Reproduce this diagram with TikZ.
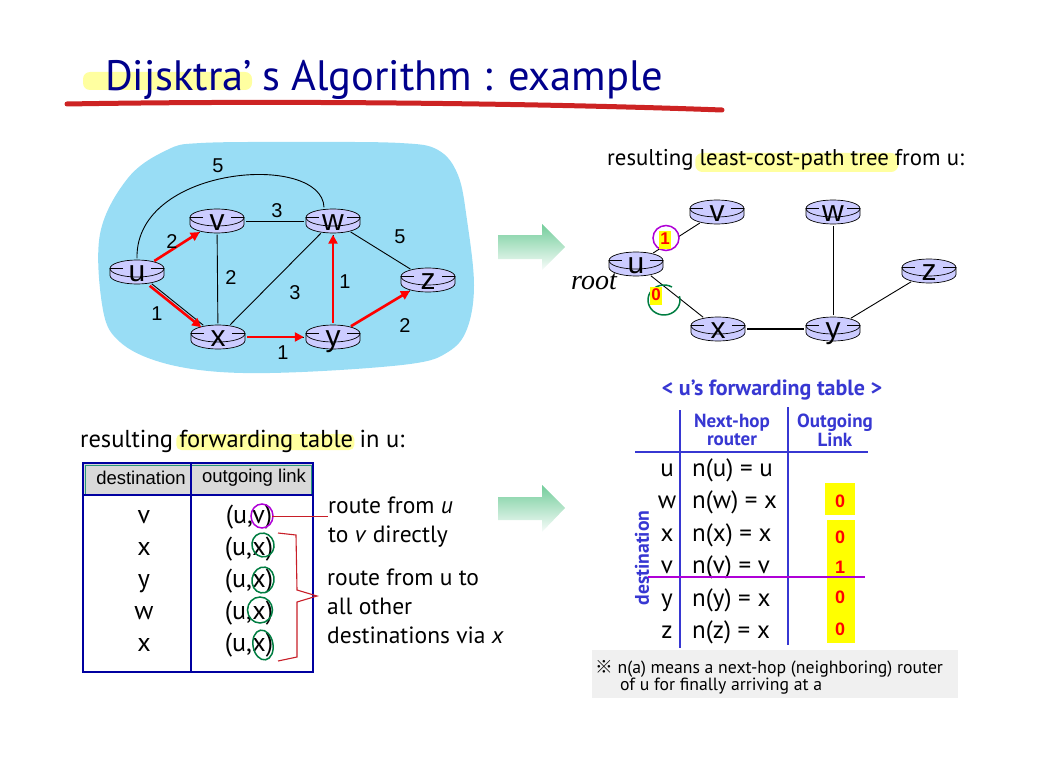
\documentclass[tikz,border=0pt]{standalone}
\usepackage{fontspec}
\setmainfont{PT Sans}
\newfontfamily\arialfont{Liberation Sans}
\newfontfamily\symfont{Noto Sans CJK SC}
\newfontfamily\handfont{Liberation Serif}
\usetikzlibrary{arrows.meta,positioning,shapes.geometric,calc}
\definecolor{titleblue}{RGB}{0,0,140}
\definecolor{underred}{RGB}{205,35,35}
\definecolor{cloudblue}{RGB}{153,221,245}
\definecolor{routerlav}{RGB}{204,204,255}
\definecolor{pathred}{RGB}{255,0,0}
\definecolor{markyellow}{RGB}{255,255,160}
\definecolor{tagyellow}{RGB}{255,255,0}
\definecolor{tableblue}{RGB}{0,0,160}
\definecolor{headgray}{RGB}{217,217,217}
\definecolor{headteal}{RGB}{40,150,120}
\definecolor{fwdblue}{RGB}{55,55,210}
\definecolor{notegray}{RGB}{240,240,240}
\definecolor{inkpurple}{RGB}{175,0,215}
\definecolor{inkgreen}{RGB}{0,125,65}
\definecolor{notered}{RGB}{200,30,40}
\definecolor{arrowgreen}{RGB}{115,205,155}
\pgfdeclarelayer{marker}
\pgfsetlayers{marker,main}
\newcommand{\router}[3]{\pic at #2 {routericon}; \node[router] (#1) at #2 {#3};}

\begin{document}
\begin{tikzpicture}[
    x=1pt, y=-1pt,
    router/.style={
        ellipse,
        minimum width=58pt,
        minimum height=27pt,
        inner sep=0pt,
        font=\arialfont\fontsize{30}{30}\selectfont,
        text height=19pt,
        text depth=0pt
    },
    routericon/.pic={
        \filldraw[fill=routerlav, draw=black, line width=0.7pt]
            (-27pt,3.5pt) -- (-27pt,-3.5pt) arc[start angle=180, end angle=360, x radius=27pt, y radius=8.5pt] -- (27pt,3.5pt) -- cycle;
        \filldraw[fill=routerlav, draw=black, line width=0.7pt] (0pt,3.5pt) ellipse[x radius=27pt, y radius=8.5pt];
        \draw[line width=0.7pt] (-27pt,3.5pt) -- (-14pt,3.5pt) (14pt,3.5pt) -- (27pt,3.5pt);
    },
    link/.style={draw=black, line width=0.9pt},
    sp/.style={draw=pathred, line width=2.6pt, -{Triangle[length=9pt,width=9pt]}},
    wt/.style={font=\arialfont\fontsize{20}{20}\selectfont, inner sep=1pt},
    capt/.style={font=\fontsize{22.8}{24}\selectfont, inner sep=0pt, anchor=base west},
    tag/.style={fill=tagyellow, text=pathred, font=\arialfont\bfseries\fontsize{17}{17}\selectfont,
        inner sep=1.5pt, text height=12pt, text depth=3pt},
    cell/.style={font=\fontsize{26}{26}\selectfont, inner sep=0pt, anchor=base},
    head/.style={font=\arialfont\fontsize{18.5}{18.5}\selectfont, inner sep=0pt},
    note/.style={font=\fontsize{23.5}{24}\selectfont, inner sep=0pt, anchor=base west},
    fwd/.style={font=\bfseries\fontsize{22}{20}\selectfont, text=fwdblue, inner sep=0pt, align=center},
    row/.style={font=\fontsize{25}{25}\selectfont, inner sep=0pt},
    bit/.style={font=\arialfont\bfseries\fontsize{18}{18}\selectfont, text=pathred, inner sep=0pt, anchor=base},
    pen/.style={line width=1.5pt},
    hl/.style={fill=markyellow, rounded corners=7pt}
]
\useasboundingbox (0,0) rectangle (1047,757);

% Title
\node[inner sep=0pt, anchor=base west, text=titleblue, font=\fontsize{42.5}{42}\selectfont] (title1) at (105,91) {Dijsktra’};
\node[inner sep=0pt, anchor=base west, text=titleblue, font=\fontsize{42.5}{42}\selectfont] (title2) at ($(title1.base east)+(10,0)$) {s Algorithm : example};
\begin{pgfonlayer}{marker}
\fill[hl] ($(title1.base west)+(-22,-19)$) rectangle ($(title1.base east)+(0,-1)$);
\end{pgfonlayer}
\draw[underred, line width=5pt, line cap=round] (67,104) .. controls (300,100) and (560,104) .. (722,110);

% Network
\fill[cloudblue] plot[smooth cycle, tension=0.6] coordinates {
    (100,234) (128,178) (167,150) (201,143) (302,142) (400,143) (438,150) (458,175)
    (467,220) (474,285) (467,329) (448,352) (410,364) (302,372) (220,372) (160,362)
    (120,342) (103,310)};
\router{u}{(137,272)}{u}
\router{v}{(217,221)}{v}
\router{w}{(333,221)}{w}
\router{x}{(218,337)}{x}
\router{y}{(333,337)}{y}
\router{z}{(428,280)}{z}

% Links
\draw[link] (u) -- (v);
\draw[link] (u) -- (x);
\draw[link] (v) -- (w);
\draw[link] (v) -- (x);
\draw[link] (x) -- (w);
\draw[link] (x) -- (y);
\draw[link] (y) -- (w);
\draw[link] (w) -- (z);
\draw[link] (y) -- (z);
\draw[link] (u.north) .. controls (135,165) and (322,152) .. ([xshift=-9pt]w.north);

% Shortest paths
\draw[sp] (u) -- (v);
\draw[sp, transform canvas={shift={(-2pt,-2pt)}}] (u) -- (x);
\draw[sp] (x) -- (y);
\draw[sp] (y) -- (w);
\draw[sp] (y) -- (z);

% Weights
\node[wt] (cuw) at (218,166) {5};
\node[wt] (cuv) at (172,242) {2};
\node[wt] (cvw) at (277,211) {3};
\node[wt] (cvx) at (231,278) {2};
\node[wt] (cux) at (157,314) {1};
\node[wt] (cxw) at (295,293) {3};
\node[wt] (cyw) at (345,282) {1};
\node[wt] (cwz) at (400,237) {5};
\node[wt] (cyz) at (405,326) {2};
\node[wt] (cxy) at (283,353) {1};

% Block arrows
\shade[top color=arrowgreen, bottom color=white!95!arrowgreen]
    (498,235) -- (542,235) -- (542,224) -- (565,247) -- (542,270) -- (542,259) -- (498,259) -- cycle;
\shade[top color=arrowgreen, bottom color=white!95!arrowgreen]
    (498,497) -- (542,497) -- (542,485) -- (565,508) -- (542,532) -- (542,520) -- (498,520) -- cycle;

% Tree
\node[capt] (cap1) at (607,165) {resulting};
\node[capt] (cap2) at ($(cap1.base east)+(5.5,0)$) {least-cost-path tree};
\node[capt] (cap3) at ($(cap2.base east)+(5.5,0)$) {from u:};
\begin{pgfonlayer}{marker}
\fill[hl] ($(cap2.base west)+(-4,-12)$) rectangle ($(cap2.base east)+(9,7)$);
\end{pgfonlayer}
\router{tu}{(636,264)}{u}
\router{tv}{(717,212)}{v}
\router{tw}{(833,212)}{w}
\router{tx}{(718,329)}{x}
\router{ty}{(833,329)}{y}
\router{tz}{(929,271)}{z}
\draw[link] (tu) -- (tv);
\draw[link] (tu) -- (tx);
\draw[link, line width=1.8pt] (tx) -- (ty);
\draw[link] (ty) -- (tw);
\draw[link] (ty) -- (tz);
\node[ellipse, draw=inkpurple, fill=white, pen, minimum width=26pt, minimum height=25pt, inner sep=0pt] (ring1) at (666,238) {};
\node[tag] (tag1) at (665,240) {1};
\draw[inkgreen, pen] (672,287) arc[start angle=60, end angle=375, x radius=16pt, y radius=15pt];
\node[tag] (tag0) at (656,296) {0};
\node[inner sep=0pt, anchor=base, font=\handfont\itshape\fontsize{28}{28}\selectfont] (root) at (594,289) {root};

% Forwarding table in u
\node[capt, font=\fontsize{24.5}{26}\selectfont] (fcap1) at (80,447) {resulting};
\node[capt, font=\fontsize{24.5}{26}\selectfont] (fcap2) at ($(fcap1.base east)+(6,0)$) {forwarding table};
\node[capt, font=\fontsize{24.5}{26}\selectfont] (fcap3) at ($(fcap2.base east)+(6,0)$) {in u:};
\begin{pgfonlayer}{marker}
\fill[hl, rounded corners=5pt] ($(fcap2.base west)+(-3,-13)$) rectangle ($(fcap2.base east)+(1,3)$);
\end{pgfonlayer}
\fill[headgray] (84,464) rectangle (312,494);
\draw[headteal, line width=0.8pt] (85,465) rectangle (311,494);
\draw[tableblue, line width=2.5pt] (83,463) rectangle (313,672);
\draw[tableblue, line width=2pt] (84,495) -- (312,495);
\draw[tableblue, line width=2pt] (191,463) -- (191,672);
\node[head] (hdest) at (141,478) {destination};
\node[head] (hlink) at (254,478) {outgoing link};
\node[cell] (d1) at (144,523) {v};
\node[cell] (d2) at (144,555) {x};
\node[cell] (d3) at (144,587) {y};
\node[cell] (d4) at (144,619) {w};
\node[cell] (d5) at (144,651) {x};
\node[cell] (l1) at (249,523) {(u,v)};
\node[cell] (l2) at (249,555) {(u,x)};
\node[cell] (l3) at (249,587) {(u,x)};
\node[cell] (l4) at (249,619) {(u,x)};
\node[cell] (l5) at (249,651) {(u,x)};
\draw[inkpurple, pen] (262,516) ellipse[x radius=11, y radius=12];
\draw[inkgreen, pen, rotate around={15:(263,545)}] (263,545) ellipse[x radius=11, y radius=12];
\draw[inkgreen, pen, rotate around={-10:(263,580)}] (263,580) ellipse[x radius=11, y radius=13];
\draw[inkgreen, pen] (260,610) ellipse[x radius=12.5, y radius=13];
\draw[inkgreen, pen, rotate around={10:(263,645)}] (263,645) ellipse[x radius=10, y radius=15];

% Notes
\node[note] (n1a) at (328,513) {route from \textit{u}};
\node[note] (n1b) at (328,542) {to \textit{v} directly};
\node[note] (n2a) at (327,585) {route from u to};
\node[note] (n2b) at (327,614) {all other};
\node[note] (n2c) at (327,643) {destinations via \textit{x}};
\draw[notered, line width=1.1pt] (l1.east) -- (l1.east -| n1a.west);
\draw[notered, line width=1.1pt] (278,533) -- (296,535) -- (297,590) -- (317,596) -- (297,602) -- (297,657) -- (278,661);

% u's forwarding table
\node[fwd] (ftitle) at (772,390) {< u’s forwarding table >};
\node[fwd, font=\bfseries\fontsize{19}{17.5}\selectfont] (fhop) at (732,430) {Next-hop\\router};
\node[fwd, font=\bfseries\fontsize{19}{17.5}\selectfont] (fout) at (835,430) {Outgoing\\Link};
\draw[fwdblue, line width=1.5pt] (680,410) -- (680,648);
\draw[fwdblue, line width=1.5pt] (788,407) -- (788,645);
\draw[fwdblue, line width=1.5pt] (635,452) -- (868,452);
\node[fwd, rotate=90, font=\bfseries\fontsize{19.7}{19.7}\selectfont] (fdest) at (642,558) {destination};
\foreach \d/\n/\yy in {u/u/476, w/x/508, x/x/541, v/v/573, y/x/606, z/x/638} {
    \node[row, anchor=base] (r\d) at (667,\yy) {\d};
    \node[row, anchor=base west] (n\d) at (692,\yy) {n(\d) = \n};
}
\fill[tagyellow] (825,483) rectangle (855,515);
\fill[tagyellow] (827,520) rectangle (855,552);
\fill[tagyellow] (827,552) rectangle (855,578);
\fill[tagyellow] (827,578) rectangle (855,615);
\fill[tagyellow] (827,613) rectangle (855,643);
\node[bit] (bw) at (840,507) {0};
\node[bit] (bx) at (840,543) {0};
\node[bit] (bv) at (840,573) {1};
\node[bit] (by) at (840,603) {0};
\node[bit] (bz) at (840,635) {0};
\draw[inkpurple, line width=2.5pt] (648,577) -- (865,577);

% Footnote
\fill[notegray] (592,650) rectangle (958,698);
\node[inner sep=0pt, anchor=base west, font=\fontsize{17.7}{17}\selectfont] (fn1) at (595,673) {{\symfont ※} n(a) means a next-hop (neighboring) router};
\node[inner sep=0pt, anchor=base west, font=\fontsize{17.7}{17}\selectfont] (fn2) at (620,690) {of u for finally arriving at a};
\end{tikzpicture}
\end{document}
